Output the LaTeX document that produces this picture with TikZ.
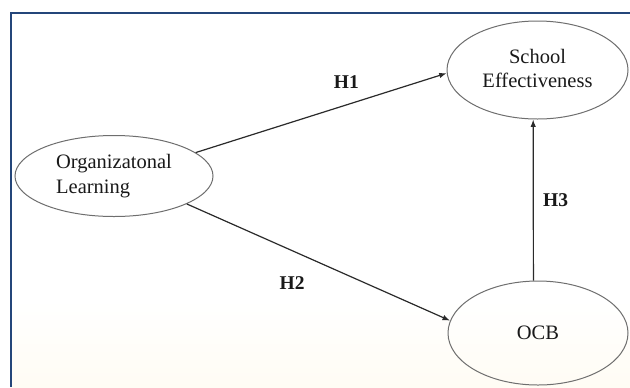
\documentclass[tikz,border=0pt]{standalone}
\usepackage{fontspec}
\setmainfont{Liberation Serif}
\usetikzlibrary{arrows.meta,shapes.geometric}
\definecolor{frameblue}{HTML}{24467A}
\definecolor{edgegray}{HTML}{6E6E6E}
\definecolor{linegray}{HTML}{2A2A2A}
\definecolor{cream}{HTML}{FFFCF4}
\tikzset{
  latent/.style={draw=edgegray, line width=1bp, ellipse, inner sep=0pt, font=\fontsize{20.5bp}{25bp}\selectfont, text=black!90},
  arr/.style={draw=linegray, line width=1.2bp, -{Latex[length=7.5bp,width=5.5bp]}},
  hlabel/.style={font=\fontsize{19.5bp}{22bp}\selectfont\bfseries, text=black!90}
}
\begin{document}
\begin{tikzpicture}[x=1bp,y=-1bp]
\useasboundingbox (0,0) rectangle (630,387);
\fill[white] (0,0) rectangle (630,387);
\shade[top color=white, bottom color=cream] (11,300) rectangle (630,387);
\draw[frameblue, line width=2.2bp] (11,387) -- (11,13) -- (630,13);
\node[latent, minimum width=181bp, minimum height=98bp] (se) at (537.5,70) {\raisebox{5bp}{\begin{tabular}{@{}c@{}}School\\[-1bp]Effectiveness\end{tabular}}};
\node[latent, minimum width=198bp, minimum height=81bp, align=left] (ol) at (114,176) {Organizatonal\\Learning};
\node[latent, minimum width=180bp, minimum height=104bp] (ocb) at (538,333) {OCB};
\draw[arr] (ol.16) -- (se.182) node[hlabel, pos=0.6, above=13bp] (h1) {H1};
\draw[arr] (ol.-21) -- (ocb.172) node[hlabel, pos=0.4, below=22bp] (h2) {H2};
\draw[arr] (ocb.95) -- (se.265) node[hlabel, midway, right=6bp] (h3) {H3};
\end{tikzpicture}
\end{document}
